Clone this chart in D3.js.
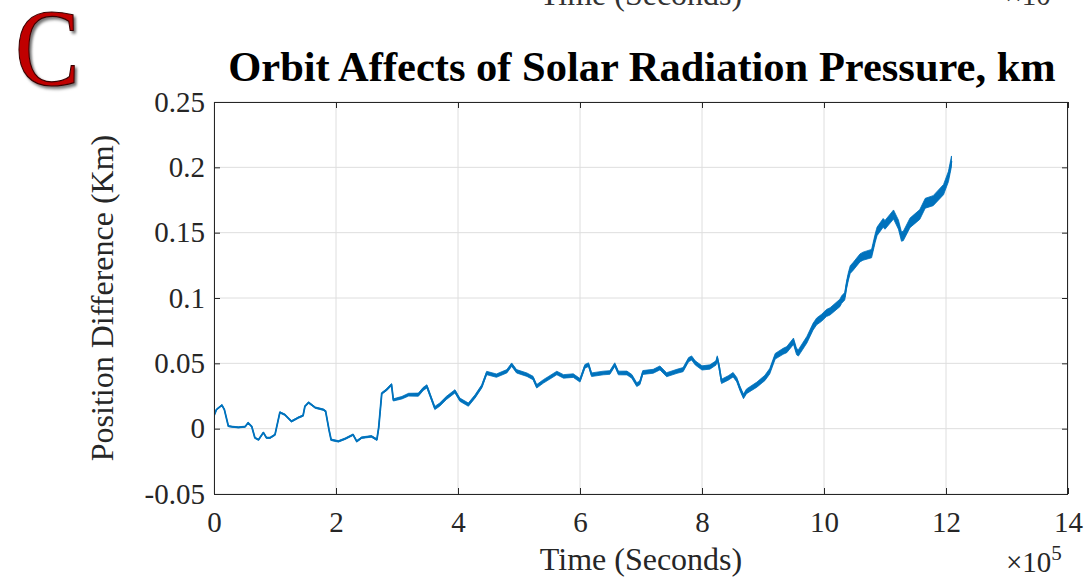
<!DOCTYPE html>
<html>
<head>
<meta charset="utf-8">
<script src="https://cdn.jsdelivr.net/npm/d3@7"></script>
<style>
  html, body { margin: 0; padding: 0; background: #fff; }
  svg { display: block; }
  text { font-family: "Liberation Serif", "Times New Roman", serif; }
</style>
</head>
<body>
<svg id="chart" width="1087" height="577"></svg>
<script>
// ---- data (time in units of 1e5 s, position difference in km) ----
const timeE5 = [0.00,0.04,0.13,0.17,0.235,0.29,0.40,0.51,0.56,0.62,0.67,0.73,0.81,0.86,0.92,1.00,1.08,1.16,1.27,1.38,1.46,1.49,1.55,1.66,1.79,1.83,1.885,1.92,2.04,2.15,2.28,2.34,2.42,2.58,2.67,2.70,2.75,2.83,2.91,2.94,3.08,3.19,3.35,
  3.43,3.49,3.54,3.62,3.70,3.81,3.95,4.03,4.17,4.28,4.39,4.47,4.63,4.80,4.88,4.96,5.13,5.23,5.29,5.40,5.62,5.73,5.89,6.00,6.08,6.14,6.19,6.38,6.49,6.57,6.63,
  6.77,6.85,6.93,6.98,7.03,7.20,7.31,7.42,7.59,7.69,7.78,7.83,7.89,8.00,8.13,8.23,8.25,8.28,8.32,8.43,8.51,8.57,8.62,8.68,8.73,8.90,9.03,9.11,9.20,9.33,9.39,9.50,9.55,9.58,9.72,9.82,9.88,9.96,10.04,10.10,10.26,10.29,10.34,10.37,10.40,10.43,10.48,10.59,10.64,10.78,10.84,10.87,10.97,11.00,11.14,11.22,11.27,11.30,11.41,11.57,11.66,11.79,11.96,12.04,12.09];
const posDiffKm = [0.010,0.0146,0.018,0.0146,0.002,0.0015,0.001,0.0015,0.0045,0.0015,-0.007,-0.0085,-0.003,-0.007,-0.007,-0.0046,0.0125,0.0107,0.0056,0.0084,0.0100,0.017,0.020,0.0161,0.0146,0.0133,-0.0008,-0.0085,-0.0097,-0.0077,-0.0046,-0.0097,-0.0069,-0.0059,-0.0084,0.0008,0.027,0.0298,0.0337,0.022,0.0237,0.0260,0.0260,
  0.0304,0.0324,0.0260,0.0158,0.0184,0.0235,0.0286,0.0222,0.0184,0.0247,0.0324,0.0426,0.0406,0.0439,0.0490,0.0439,0.0413,0.0388,0.0324,0.0362,0.0426,0.0400,0.0406,0.0370,0.0477,0.0490,0.0413,0.0426,0.0430,0.0490,0.0426,
  0.0426,0.0400,0.0337,0.0350,0.0430,0.0439,0.0465,0.0413,0.0439,0.0452,0.0528,0.0541,0.0503,0.0465,0.0472,0.0503,0.0541,0.0477,0.0362,0.0388,0.0413,0.0375,0.0311,0.0247,0.0286,0.0337,0.0388,0.0439,0.0554,0.0592,0.0605,0.0669,0.0590,0.0580,0.0681,0.0780,0.0821,0.0848,0.0885,0.0898,0.0962,0.0988,0.1013,0.1100,0.1166,0.1217,0.1243,0.1307,0.1320,0.1340,0.1460,0.1510,0.1575,0.1560,0.1639,0.1562,0.1470,0.1475,0.1575,0.1639,0.1725,0.1745,0.1830,0.1930,0.2047];
// noise band half-width
const bandT    = [0, 2.7, 3.3, 6.5, 8.6, 9.5, 10.5, 11.3, 12.1];
const bandHalf = [0.0004, 0.0006, 0.0012, 0.0014, 0.0017, 0.0024, 0.0030, 0.0036, 0.0040];

const xTicks = [0, 2, 4, 6, 8, 10, 12, 14];
const xTickLabels = ["0", "2", "4", "6", "8", "10", "12", "14"];
const yTicks = [-0.05, 0, 0.05, 0.1, 0.15, 0.2, 0.25];
const yTickLabels = ["-0.05", "0", "0.05", "0.1", "0.15", "0.2", "0.25"];

const titleText = "Orbit Affects of Solar Radiation Pressure, km";
const xLabelText = "Time (Seconds)";
const yLabelText = "Position Difference (Km)";
const panelLetter = "C";

// ---- layout ----
const L = 214, R = 1068, T = 102, B = 494;
const svg = d3.select("#chart");
const defs = svg.append("defs");
const f = defs.append("filter").attr("id", "shadow").attr("x", "-30%").attr("y", "-30%").attr("width", "170%").attr("height", "170%");
f.append("feDropShadow").attr("dx", 2.5).attr("dy", 2.5).attr("stdDeviation", 1.5).attr("flood-color", "#000").attr("flood-opacity", 0.55);
defs.append("clipPath").attr("id", "plotclip").append("rect").attr("x", L).attr("y", T).attr("width", R - L).attr("height", B - T);

svg.append("rect").attr("width", 1087).attr("height", 577).attr("fill", "#fff");

const x = d3.scaleLinear().domain([0, 14]).range([L, R]);
const y = d3.scaleLinear().domain([-0.05, 0.25]).range([B, T]);
const band = d3.scaleLinear().domain(bandT).range(bandHalf).clamp(true);

// remnants of the panel above (cut by the top edge, as in the reference)
svg.append("text").attr("x", x(7)).attr("y", 5).attr("text-anchor", "middle")
  .attr("font-size", 32).attr("fill", "#333").text(xLabelText);
svg.append("text").attr("x", 1028).attr("y", 5).attr("text-anchor", "middle")
  .attr("font-size", 29).attr("fill", "#333").text("\u00d710");

// grid
const g = svg.append("g");
g.selectAll(".gx").data(xTicks).join("line")
  .attr("x1", d => x(d)).attr("x2", d => x(d)).attr("y1", T).attr("y2", B)
  .attr("stroke", "#dedede").attr("stroke-width", 1);
g.selectAll(".gy").data(yTicks).join("line")
  .attr("x1", L).attr("x2", R).attr("y1", d => y(d)).attr("y2", d => y(d))
  .attr("stroke", "#dedede").attr("stroke-width", 1);

// data
const pts = timeE5.map((t, i) => ({ t, v: posDiffKm[i] }));
const plot = svg.append("g").attr("clip-path", "url(#plotclip)");
plot.append("path").datum(pts)
  .attr("d", d3.area().x(d => x(d.t)).y0(d => y(d.v - band(d.t))).y1(d => y(d.v + band(d.t))))
  .attr("fill", "#0072BD").attr("stroke", "#0072BD").attr("stroke-width", 0.8);
plot.append("path").datum(pts)
  .attr("d", d3.line().x(d => x(d.t)).y(d => y(d.v)))
  .attr("fill", "none").attr("stroke", "#0072BD").attr("stroke-width", 1.8).attr("stroke-linejoin", "round");

// axes
const axisColor = "#262626";
const xb = svg.append("g").attr("transform", `translate(0,${B})`)
  .call(d3.axisBottom(x).tickValues(xTicks).tickSize(-6).tickSizeOuter(0).tickPadding(17)
    .tickFormat((d, i) => xTickLabels[i]));
const xt = svg.append("g").attr("transform", `translate(0,${T})`)
  .call(d3.axisTop(x).tickValues(xTicks).tickSize(-6).tickSizeOuter(0).tickFormat(""));
const yl = svg.append("g").attr("transform", `translate(${L},0)`)
  .call(d3.axisLeft(y).tickValues(yTicks).tickSize(-6).tickSizeOuter(0).tickPadding(9)
    .tickFormat((d, i) => yTickLabels[i]));
const yr = svg.append("g").attr("transform", `translate(${R},0)`)
  .call(d3.axisRight(y).tickValues(yTicks).tickSize(-6).tickSizeOuter(0).tickFormat(""));
[xb, xt, yl, yr].forEach(a => {
  a.select(".domain").remove();
  a.selectAll(".tick line").attr("stroke", axisColor);
  a.selectAll("text").attr("font-family", "Liberation Serif, Times New Roman, serif")
    .attr("font-size", 29).attr("fill", axisColor);
});
svg.append("rect").attr("x", L + 0.5).attr("y", T + 0.5).attr("width", R - L - 1).attr("height", B - T)
  .attr("fill", "none").attr("stroke", axisColor).attr("stroke-width", 1);

// labels
svg.append("text").attr("x", x(7)).attr("y", 570).attr("text-anchor", "middle")
  .attr("font-size", 32).attr("fill", axisColor).text(xLabelText);
const ex = svg.append("text").attr("x", 1006).attr("y", 572).attr("font-size", 29).attr("fill", axisColor);
ex.append("tspan").text("\u00d710");
ex.append("tspan").attr("dy", -12).attr("font-size", 21).text("5");

svg.append("text").attr("transform", `translate(113,${(T + B) / 2}) rotate(-90)`)
  .attr("text-anchor", "middle").attr("font-size", 32).attr("fill", axisColor).text(yLabelText);

svg.append("text").attr("x", 642).attr("y", 81).attr("text-anchor", "middle")
  .attr("font-size", 42.5).attr("font-weight", "bold").attr("fill", "#000").text(titleText);

// panel letter
svg.append("text").attr("transform", "translate(15,85) scale(0.88,1)").attr("font-size", 110)
  .attr("fill", "#c00000").attr("stroke", "#3b0000").attr("stroke-width", 1.2)
  .attr("filter", "url(#shadow)").text(panelLetter);
</script>
</body>
</html>
